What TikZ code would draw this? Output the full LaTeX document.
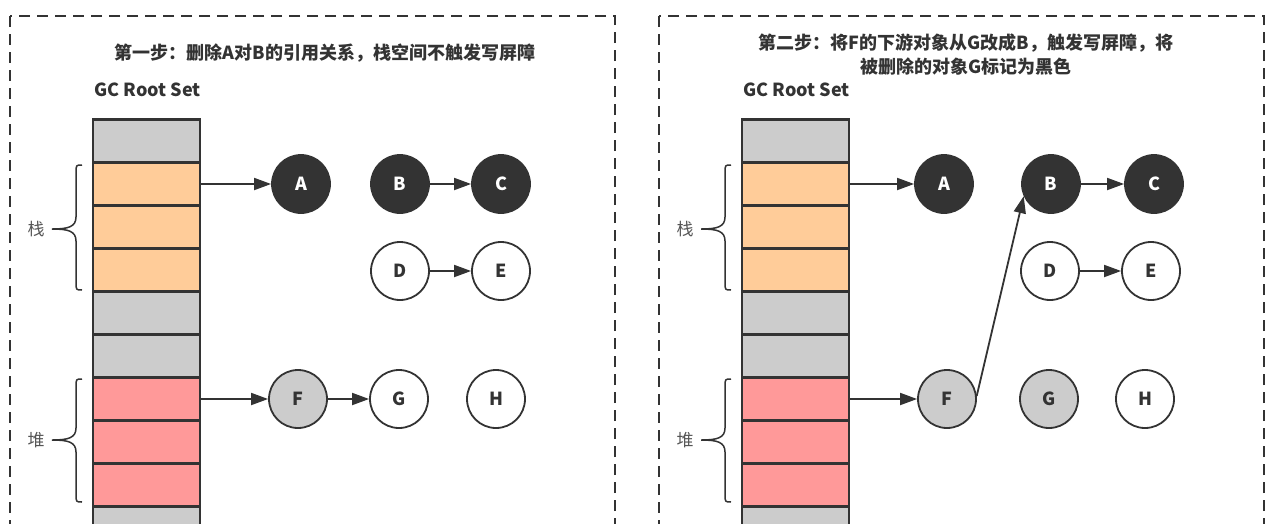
\documentclass[tikz,border=0pt]{standalone}
\usepackage{fontspec}
\setmainfont{Noto Sans CJK SC}
\usetikzlibrary{arrows.meta}

\definecolor{linegray}{HTML}{333333}
\definecolor{cellgray}{HTML}{CCCCCC}
\definecolor{cellorange}{HTML}{FFCC99}
\definecolor{cellred}{HTML}{FF9999}
\definecolor{labelgray}{HTML}{555555}

\tikzset{
  cell/.style={draw=linegray, line width=2.2pt, minimum width=107pt, minimum height=43pt, inner sep=0pt},
  obj/.style={circle, draw=linegray, line width=1.8pt, minimum size=58pt, inner sep=0pt, font=\fontsize{18}{20}\selectfont\bfseries},
  blackobj/.style={obj, fill=linegray, text=white},
  grayobj/.style={obj, fill=cellgray, text=linegray},
  whiteobj/.style={obj, fill=white, text=linegray},
  ref/.style={draw=linegray, line width=1.8pt, -{Triangle[length=17pt,width=12pt]}},
  title/.style={font=\fontsize{18}{24}\selectfont\bfseries, text=linegray, align=center},
}

\begin{document}
\begin{tikzpicture}[x=1pt,y=-1pt]
    \useasboundingbox[fill=white] (0,0) rectangle (1270,523);
    \clip (0,0) rectangle (1270,523);

    % the two panels: frame, root set column, braces
    \foreach \p/\dx in {l/0, r/649} {
        \draw[linegray, line width=2pt, dash pattern=on 11pt off 7pt] ({10+\dx},16) rectangle ({615+\dx},600);
        \node[font=\fontsize{18}{20}\selectfont\bfseries, text=linegray] (\p root) at ({147.5+\dx},90) {GC Root Set};
        \foreach \i/\c in {0/cellgray,1/cellorange,2/cellorange,3/cellorange,4/cellgray,5/cellgray,6/cellred,7/cellred,8/cellred,9/cellgray}
            \node[cell, fill=\c] (\p\i) at ({146.5+\dx},{141+43*\i}) {};
        \foreach \t/\b/\m/\txt in {165/290/229/栈, 379/502/440/堆} {
            \draw[linegray, line width=1.5pt] ({82+\dx},\t) .. controls ({76+\dx},\t) .. ({76+\dx},{\t+8})
                -- ({76+\dx},{\m-12}) .. controls ({76+\dx},{\m-2}) and ({68+\dx},\m) .. ({52+\dx},\m)
                .. controls ({68+\dx},\m) and ({76+\dx},{\m+2}) .. ({76+\dx},{\m+12})
                -- ({76+\dx},{\b-8}) .. controls ({76+\dx},\b) .. ({82+\dx},\b);
            \node[font=\fontsize{17}{20}\selectfont, text=labelgray] (\p s\m) at ({36+\dx},\m) {\txt};
        }
    }

    % step one
    \node[title] (ltitle) at (325,53) {第一步：删除A对B的引用关系，栈空间不触发写屏障};
    \node[blackobj] (lA) at (301,184) {A};
    \node[blackobj] (lB) at (400,184) {B};
    \node[blackobj] (lC) at (501,184) {C};
    \node[whiteobj] (lD) at (400,271) {D};
    \node[whiteobj] (lE) at (501,271) {E};
    \node[grayobj] (lF) at (298,399) {F};
    \node[whiteobj] (lG) at (399,399) {G};
    \node[whiteobj] (lH) at (496,399) {H};
    \draw[ref] (l1) -- (lA);
    \draw[ref] (lB) -- (lC);
    \draw[ref] (lD) -- (lE);
    \draw[ref] (l6) -- (lF);
    \draw[ref] (lF) -- (lG);

    % step two
    \node[title] (rtitle) at (966,55) {第二步：将F的下游对象从G改成B，触发写屏障，将\\被删除的对象G标记为黑色};
    \node[blackobj] (rA) at (944,184) {A};
    \node[blackobj] (rB) at (1051,184) {B};
    \node[blackobj] (rC) at (1154,184) {C};
    \node[whiteobj] (rD) at (1050,271) {D};
    \node[whiteobj] (rE) at (1151,271) {E};
    \node[grayobj] (rF) at (947,399) {F};
    \node[grayobj] (rG) at (1049,399) {G};
    \node[whiteobj] (rH) at (1145,399) {H};
    \draw[ref] (r1) -- (rA);
    \draw[ref] (rB) -- (rC);
    \draw[ref] (rD) -- (rE);
    \draw[ref] (r6) -- (rF);
    \draw[ref] (rF.6) -- (rB.204);
\end{tikzpicture}
\end{document}
